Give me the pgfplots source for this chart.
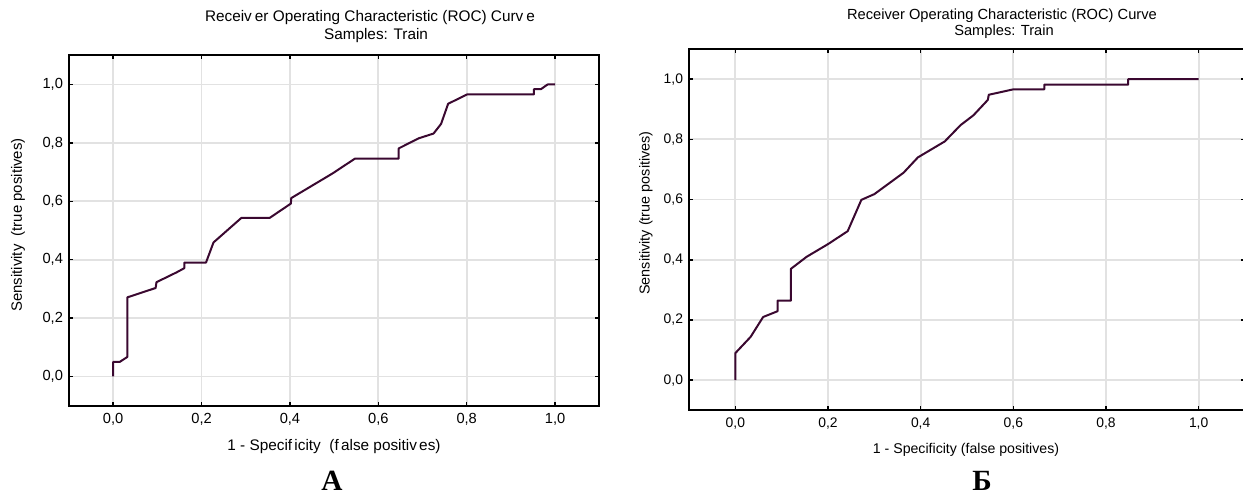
\documentclass[border=0pt]{standalone}
\usepackage{pgfplots}
\pgfplotsset{compat=1.18}
\usepackage{fontspec}
\setmainfont{Liberation Sans}
\newfontfamily\letterfont{Liberation Serif}

\definecolor{roc}{RGB}{58,8,48}
\definecolor{gridgray}{RGB}{226,226,226}

\pgfplotsset{
  rocaxis/.style={
    scale only axis,
    anchor=south west,
    xmin=-0.1, xmax=1.1, ymin=-0.1, ymax=1.1,
    xtick={0,0.2,0.4,0.6,0.8,1.0},
    ytick={0,0.2,0.4,0.6,0.8,1.0},
    grid=major,
    major grid style={draw=gridgray, line width=1.3pt},
    axis line style={black, line width=1.4pt},
    tick align=inside,
    major tick length=3pt,
    tick style={black, line width=1.1pt},
    /pgf/number format/.cd, assume math mode=true, use comma, fixed, fixed zerofill, precision=1,
  },
  rocline/.style={roc, line width=1.5pt, no markers, line join=round},
}

\begin{document}
\begin{tikzpicture}[x=0.75pt, y=0.75pt]

% ---- chart A
\begin{axis}[rocaxis, at={(51.75pt,66.98pt)}, width=397.7pt, height=262.8pt,
  ticklabel style={font=\fontsize{11}{13}\selectfont},
  xticklabel style={yshift=-2pt}, yticklabel style={xshift=-1pt}]
\addplot[rocline] coordinates {
 (0,0) (0,0.05) (0.015,0.05) (0.032,0.067) (0.032,0.271) (0.096,0.303)
 (0.098,0.323) (0.144,0.357) (0.161,0.371) (0.161,0.39) (0.210,0.39)
 (0.227,0.459) (0.29,0.543) (0.354,0.543) (0.402,0.592) (0.403,0.611)
 (0.496,0.695) (0.547,0.746) (0.646,0.746) (0.646,0.781) (0.692,0.816)
 (0.725,0.832) (0.742,0.865) (0.758,0.934) (0.801,0.966) (0.952,0.966)
 (0.952,0.984) (0.968,0.984) (0.983,1.0) (1.0,1.0)
};
\end{axis}

% ---- chart Б
\begin{axis}[rocaxis, at={(516.75pt,63.5pt)}, width=417pt, height=271pt,
  ticklabel style={font=\fontsize{10.4}{12}\selectfont},
  xticklabel style={yshift=-2pt}, yticklabel style={xshift=-1pt}]
\addplot[rocline] coordinates {
 (0,0) (0,0.09) (0.033,0.144) (0.06,0.21) (0.091,0.229) (0.091,0.264)
 (0.12,0.264) (0.12,0.37) (0.154,0.41) (0.2,0.452) (0.2425,0.495)
 (0.272,0.599) (0.3,0.618) (0.363,0.689) (0.394,0.74) (0.452,0.793)
 (0.486,0.847) (0.514,0.88) (0.545,0.931) (0.547,0.948) (0.6,0.966)
 (0.667,0.966) (0.667,0.982) (0.848,0.982) (0.848,1.0) (1.0,1.0)
};
\end{axis}

% titles and labels
\node[font=\fontsize{11.5}{13}\selectfont] at (370,477.5) {Receiv\hspace{0.2em}er Operating Characteristic (ROC) Curv\hspace{0.2em}e};
\node[font=\fontsize{11.5}{13}\selectfont] at (376,459.5) {Samples: Train};
\node[font=\fontsize{11}{13}\selectfont] at (1002,479) {Receiver Operating Characteristic (ROC) Curve};
\node[font=\fontsize{11}{13}\selectfont] at (1004,463) {Samples: Train};

\node[font=\fontsize{11.5}{13}\selectfont] at (334,48) {1 - Specif\hspace{0.15em}icity \ (f\hspace{0.15em}alse positiv\hspace{0.15em}es)};
\node[font=\fontsize{10.6}{12}\selectfont] at (966,45) {1 - Specificity (false positives)};

\node[font=\fontsize{11.2}{13}\selectfont, rotate=90] at (18,270) {Sensitivity \ (true positives)};
\node[font=\fontsize{10.8}{12}\selectfont, rotate=90] at (646,282) {Sensitivity (true positives)};

\node[font=\letterfont\bfseries\fontsize{22}{24}\selectfont, anchor=base] at (332,4) {А};
\node[font=\letterfont\bfseries\fontsize{22}{24}\selectfont, anchor=base] at (982,4) {Б};

\pgfresetboundingbox
\path (0,0) rectangle (1243,495);
\end{tikzpicture}
\end{document}
